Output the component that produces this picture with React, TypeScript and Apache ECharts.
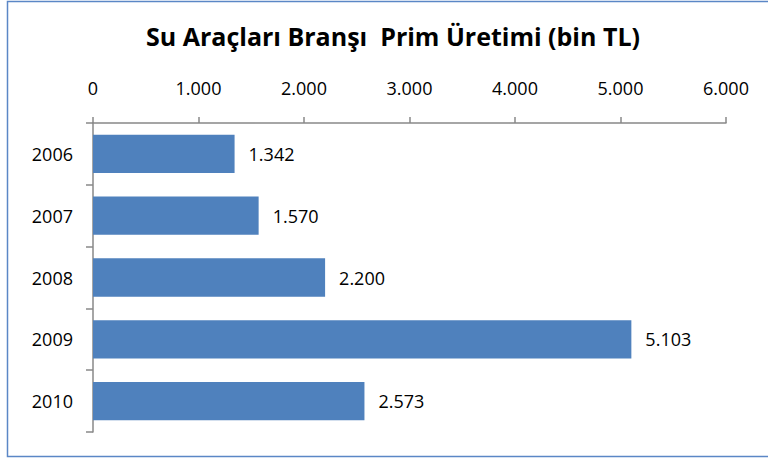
import React, { useEffect, useRef } from "react";
import * as echarts from "echarts";

const categories = ["2006", "2007", "2008", "2009", "2010"];
const values = [1342, 1570, 2200, 5103, 2573];
const axisMax = 6000;
const axisInterval = 1000;
const titleText = "Su Araçları Branşı  Prim Üretimi (bin TL)";

function fmt(v: number): string {
  const s = Math.round(v).toString();
  return s.replace(/\B(?=(\d{3})+(?!\d))/g, ".");
}

export default function App() {
  const ref = useRef<HTMLDivElement>(null);
  useEffect(() => {
    if (!ref.current) return;
    const chart = echarts.init(ref.current, null, { renderer: "svg" });
    const font = "'Open Sans', sans-serif";
    chart.setOption({
      animation: false,
      backgroundColor: "#ffffff",
      title: {
        text: titleText,
        left: 388,
        textAlign: "center",
        top: 18,
        textStyle: {
          fontFamily: font,
          fontWeight: "bold",
          fontSize: 25,
          color: "#000000",
        },
      },
      graphic: [
        {
          type: "rect",
          shape: { x: 7.5, y: 1.5, width: 770, height: 455 },
          style: { fill: "none", stroke: "#5b87c6", lineWidth: 1.5 },
          silent: true,
        },
      ],
      grid: { left: 93, top: 123, right: 42, bottom: 27, containLabel: false },
      xAxis: {
        type: "value",
        position: "top",
        min: 0,
        max: axisMax,
        interval: axisInterval,
        axisLine: { show: true, lineStyle: { color: "#888888", width: 1.5 } },
        axisTick: { show: true, length: 6, lineStyle: { color: "#888888", width: 1.5 } },
        splitLine: { show: false },
        axisLabel: {
          fontFamily: font,
          fontSize: 18,
          color: "#000000",
          margin: 26,
          formatter: (v: number) => fmt(v),
        },
      },
      yAxis: {
        type: "category",
        data: categories,
        inverse: true,
        axisLine: { show: true, lineStyle: { color: "#888888", width: 1.5 } },
        axisTick: { show: true, length: 7, lineStyle: { color: "#888888", width: 1.5 } },
        axisLabel: {
          fontFamily: font,
          fontSize: 18,
          color: "#000000",
          margin: 20,
        },
      },
      series: [
        {
          type: "bar",
          data: values,
          barWidth: "62%",
          itemStyle: { color: "#4f81bd" },
          label: {
            show: true,
            position: "right",
            distance: 14,
            fontFamily: font,
            fontSize: 18,
            color: "#000000",
            formatter: (p: any) => fmt(p.value),
          },
        },
      ],
    });
    return () => chart.dispose();
  }, []);
  return (
    <div
      ref={ref}
      style={{ position: "fixed", left: 0, top: 0, width: 768, height: 459 }}
    />
  );
}
